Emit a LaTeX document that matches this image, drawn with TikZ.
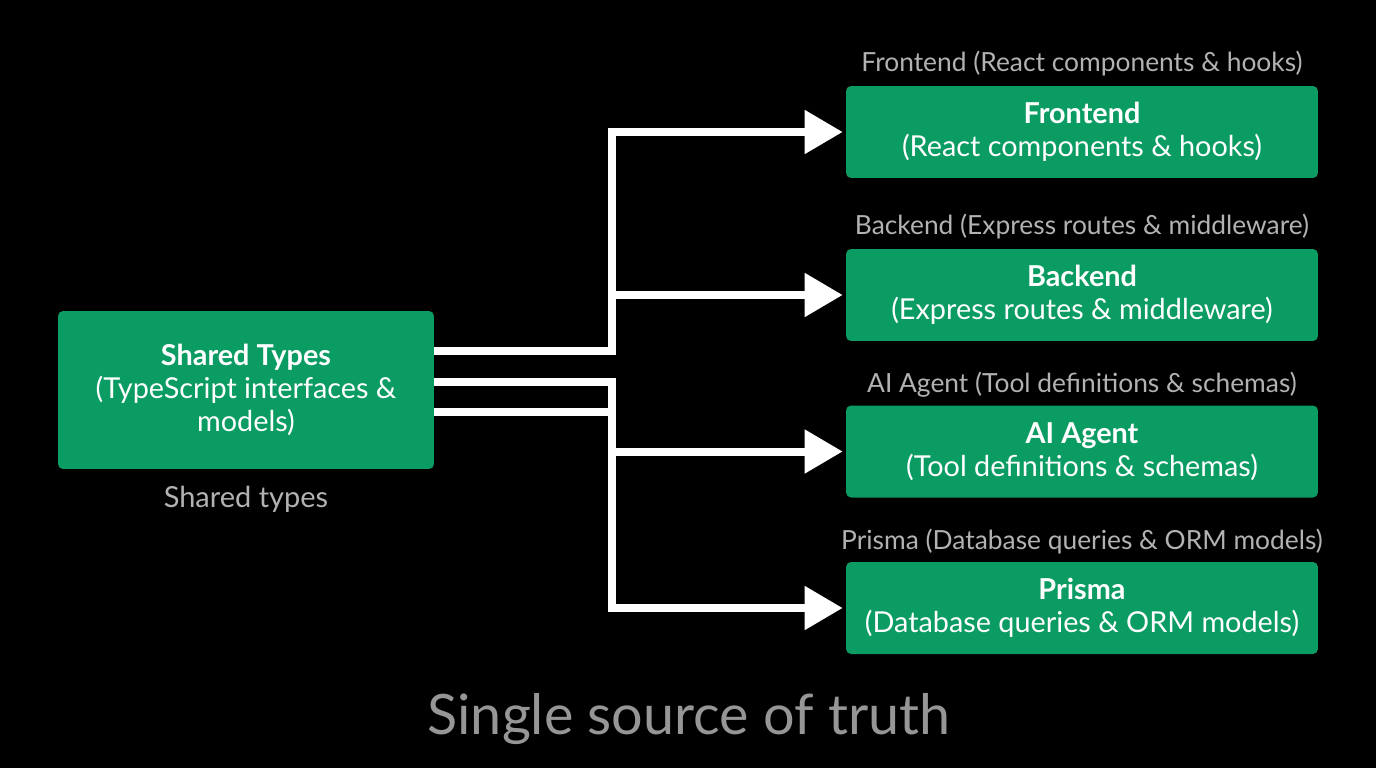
\documentclass[tikz,border=0pt]{standalone}
\usepackage{fontspec}
\setmainfont{Lato}
\usetikzlibrary{arrows.meta}
\definecolor{boxgreen}{RGB}{10,156,98}
\definecolor{lblgray}{RGB}{178,178,178}
\definecolor{titlegray}{RGB}{150,150,150}
\begin{document}
\begin{tikzpicture}[x=0.02cm, y=-0.02cm,
  box/.style={fill=boxgreen, rounded corners=0.1cm, text=white, align=center,
    minimum width=9.44cm, minimum height=1.84cm, font=\fontsize{16.4}{18.8}\selectfont},
  lbl/.style={text=lblgray, font=\fontsize{15}{16}\selectfont},
  wire/.style={white, line width=0.16cm},
  arr/.style={wire, -{Triangle[length=0.76cm,width=0.84cm]}, shorten >=1.7pt}]
\fill [black] (0,0) rectangle (1376,768);
% boxes
\node [box, minimum width=7.52cm, minimum height=3.16cm] (shared) at (246,390)
  {{\bfseries Shared Types}\\(TypeScript interfaces \&\\models)};
\node [box] (front) at (1082,132) {{\bfseries Frontend}\\(React components \& hooks)};
\node [box] (back) at (1082,295) {{\bfseries Backend}\\(Express routes \& middleware)};
\node [box] (agent) at (1082,451.5) {{\bfseries AI Agent}\\(Tool definitions \& schemas)};
\node [box] (prisma) at (1082,608) {{\bfseries Prisma}\\(Database queries \& ORM models)};
% labels
\node [lbl] (frontlbl) at ([yshift=0.45cm]front.north) {Frontend (React components \& hooks)};
\node [lbl] (backlbl) at ([yshift=0.45cm]back.north) {Backend (Express routes \& middleware)};
\node [lbl] (agentlbl) at ([yshift=0.4cm]agent.north) {AI Agent (Tool definitions \& schemas)};
\node [lbl] (prismalbl) at ([yshift=0.4cm]prisma.north) {Prisma (Database queries \& ORM models)};
\node [lbl, font=\fontsize{16.5}{17}\selectfont] (sharedlbl) at (246,499) {Shared types};
\node [text=titlegray, font=\fontsize{31.7}{36}\selectfont] (title) at (689,719) {Single source of truth};
% connectors
\coordinate (j1) at (612,351);
\coordinate (j2) at (612,382);
\coordinate (j3) at (612,412);
\draw [arr] (shared.east |- j1) -- (j1) |- (front.west);
\draw [arr] (j1 |- back.west) -- (back.west);
\draw [arr] (shared.east |- j2) -- (j2) |- (prisma.west);
\draw [wire] (shared.east |- j3) -- (j3);
\draw [arr] (j2 |- agent.west) -- (agent.west);
\end{tikzpicture}
\end{document}
